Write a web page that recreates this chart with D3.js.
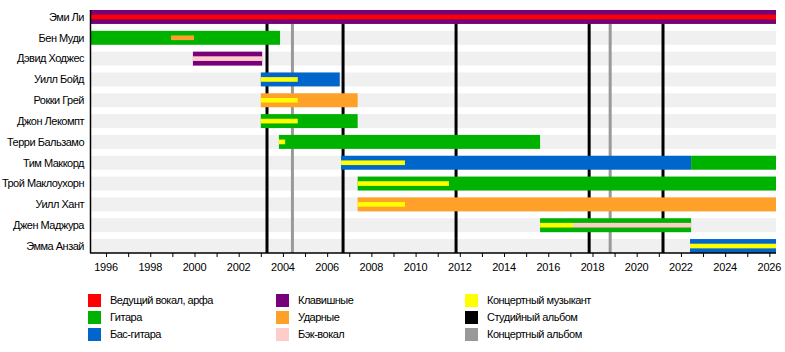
<!DOCTYPE html>
<html>
<head>
<meta charset="utf-8">
<script src="https://cdn.jsdelivr.net/npm/d3@7"></script>
<style>
  body { margin: 0; background: #fff; }
  text { font-family: "Liberation Sans", Arial, sans-serif; font-size: 11px; fill: #000; }
  .lbl { letter-spacing: -0.5px; }
  .yr { letter-spacing: -0.2px; }
</style>
</head>
<body>
<div id="chart"></div>
<script>
const W = 785, H = 352;

const members = ["Эми Ли", "Бен Муди", "Дэвид Ходжес", "Уилл Бойд", "Рокки Грей", "Джон Лекомпт",
  "Терри Бальзамо", "Тим Маккорд", "Трой Маклоухорн", "Уилл Хант", "Джен Маджура", "Эмма Анзай"];

const roles = ["Ведущий вокал, арфа", "Гитара", "Бас-гитара", "Клавишные", "Ударные", "Бэк-вокал",
  "Концертный музыкант", "Студийный альбом", "Концертный альбом"];
const roleColors = ["#ff0000", "#00b200", "#0066cc", "#780078", "#ffa028", "#ffcccc",
  "#ffff00", "#000000", "#999999"];

const startYear = 1995.32, nowYear = 2026.30;

// [member, role, from, to] — full width bars
const mainBars = [
  ["Эми Ли", "Клавишные", 1995.32, nowYear],
  ["Бен Муди", "Гитара", 1995.32, 2003.87],
  ["Дэвид Ходжес", "Клавишные", 1999.93, 2003.06],
  ["Уилл Бойд", "Бас-гитара", 2003.0, 2006.57],
  ["Рокки Грей", "Ударные", 2003.0, 2007.38],
  ["Джон Лекомпт", "Гитара", 2003.0, 2007.38],
  ["Терри Бальзамо", "Гитара", 2003.82, 2015.63],
  ["Тим Маккорд", "Бас-гитара", 2006.63, 2022.46],
  ["Тим Маккорд", "Гитара", 2022.46, nowYear],
  ["Трой Маклоухорн", "Гитара", 2007.38, nowYear],
  ["Уилл Хант", "Ударные", 2007.38, nowYear],
  ["Джен Маджура", "Гитара", 2015.63, 2022.46],
  ["Эмма Анзай", "Бас-гитара", 2022.41, nowYear]
];

// thin bars in the middle of a row
const subBars = [
  ["Эми Ли", "Ведущий вокал, арфа", 1995.32, nowYear],
  ["Бен Муди", "Ударные", 1998.94, 1999.98],
  ["Дэвид Ходжес", "Бэк-вокал", 1999.93, 2003.06],
  ["Уилл Бойд", "Концертный музыкант", 2003.0, 2004.67],
  ["Рокки Грей", "Концертный музыкант", 2003.0, 2004.67],
  ["Джон Лекомпт", "Концертный музыкант", 2003.0, 2004.67],
  ["Терри Бальзамо", "Концертный музыкант", 2003.82, 2004.1],
  ["Тим Маккорд", "Концертный музыкант", 2006.63, 2009.52],
  ["Трой Маклоухорн", "Концертный музыкант", 2007.38, 2011.51],
  ["Уилл Хант", "Концертный музыкант", 2007.38, 2009.52],
  ["Джен Маджура", "Концертный музыкант", 2015.63, 2017.12],
  ["Джен Маджура", "Бэк-вокал", 2017.12, 2022.46],
  ["Эмма Анзай", "Концертный музыкант", 2022.41, nowYear]
];

const studioAlbums = [2003.28, 2006.72, 2011.83, 2017.85, 2021.19];
const liveAlbums = [2004.43, 2018.80];

const tickYears = d3.range(1996, 2027, 2);
const minorYears = d3.range(1996, 2027, 1);

const color = d3.scaleOrdinal(roles, roleColors);

const svg = d3.select("#chart").append("svg")
  .attr("width", W).attr("height", H);

const x = d3.scaleLinear().domain([startYear, nowYear]).range([91, 776]);
const y = d3.scaleBand().domain(members).range([10, 253]).paddingInner(0.33).paddingOuter(0);
const bw = y.bandwidth();

// background stripes
svg.append("g").selectAll("rect").data(members).enter().append("rect")
  .attr("x", x(startYear)).attr("width", x(nowYear) - x(startYear))
  .attr("y", d => y(d)).attr("height", bw)
  .attr("fill", "#f0f0f0");

// album lines (behind bars)
svg.append("g").selectAll("line").data(liveAlbums).enter().append("line")
  .attr("x1", d => x(d)).attr("x2", d => x(d))
  .attr("y1", 10).attr("y2", 253)
  .attr("stroke", color("Концертный альбом")).attr("stroke-width", 3);
svg.append("g").selectAll("line").data(studioAlbums).enter().append("line")
  .attr("x1", d => x(d)).attr("x2", d => x(d))
  .attr("y1", 10).attr("y2", 253)
  .attr("stroke", color("Студийный альбом")).attr("stroke-width", 3);

// main bars
svg.append("g").selectAll("rect").data(mainBars).enter().append("rect")
  .attr("x", d => x(d[2])).attr("width", d => x(d[3]) - x(d[2]))
  .attr("y", d => y(d[0])).attr("height", bw)
  .attr("fill", d => color(d[1]));

// secondary bars
svg.append("g").selectAll("rect").data(subBars).enter().append("rect")
  .attr("x", d => x(d[2])).attr("width", d => x(d[3]) - x(d[2]))
  .attr("y", d => y(d[0]) + bw / 3).attr("height", bw / 3)
  .attr("fill", d => color(d[1]));

// member labels
svg.append("g").selectAll("text").data(members).enter().append("text")
  .attr("class", "lbl")
  .attr("x", 84).attr("y", d => y(d) + bw / 2)
  .attr("dy", "0.35em").attr("text-anchor", "end")
  .text(d => d);

// axes
const axisY = 253;
svg.append("line").attr("x1", 90.5).attr("x2", 90.5).attr("y1", 10).attr("y2", axisY)
  .attr("stroke", "#000").attr("stroke-width", 1.5);

const axisG = svg.append("g").attr("transform", `translate(0,${axisY})`);
axisG.call(d3.axisBottom(x).tickValues(minorYears).tickSize(4).tickFormat(""))
  .call(g => g.select(".domain").remove());
axisG.append("line").attr("x1", 90).attr("x2", 776).attr("stroke", "#000").attr("stroke-width", 1.5);
axisG.append("g").selectAll("text").data(tickYears).enter().append("text")
  .attr("class", "yr")
  .attr("x", d => x(d)).attr("y", 18)
  .attr("text-anchor", "middle")
  .text(d => d);

// legend
const legendCols = [88, 276, 465];
const legend = svg.append("g").selectAll("g").data(roles).enter().append("g")
  .attr("transform", (d, i) => `translate(${legendCols[Math.floor(i / 3)]},${294 + (i % 3) * 17})`);
legend.append("rect").attr("width", 13).attr("height", 13).attr("fill", d => color(d));
legend.append("text").attr("class", "lbl").attr("x", 22).attr("y", 6.5).attr("dy", "0.35em").text(d => d);
</script>
</body>
</html>
